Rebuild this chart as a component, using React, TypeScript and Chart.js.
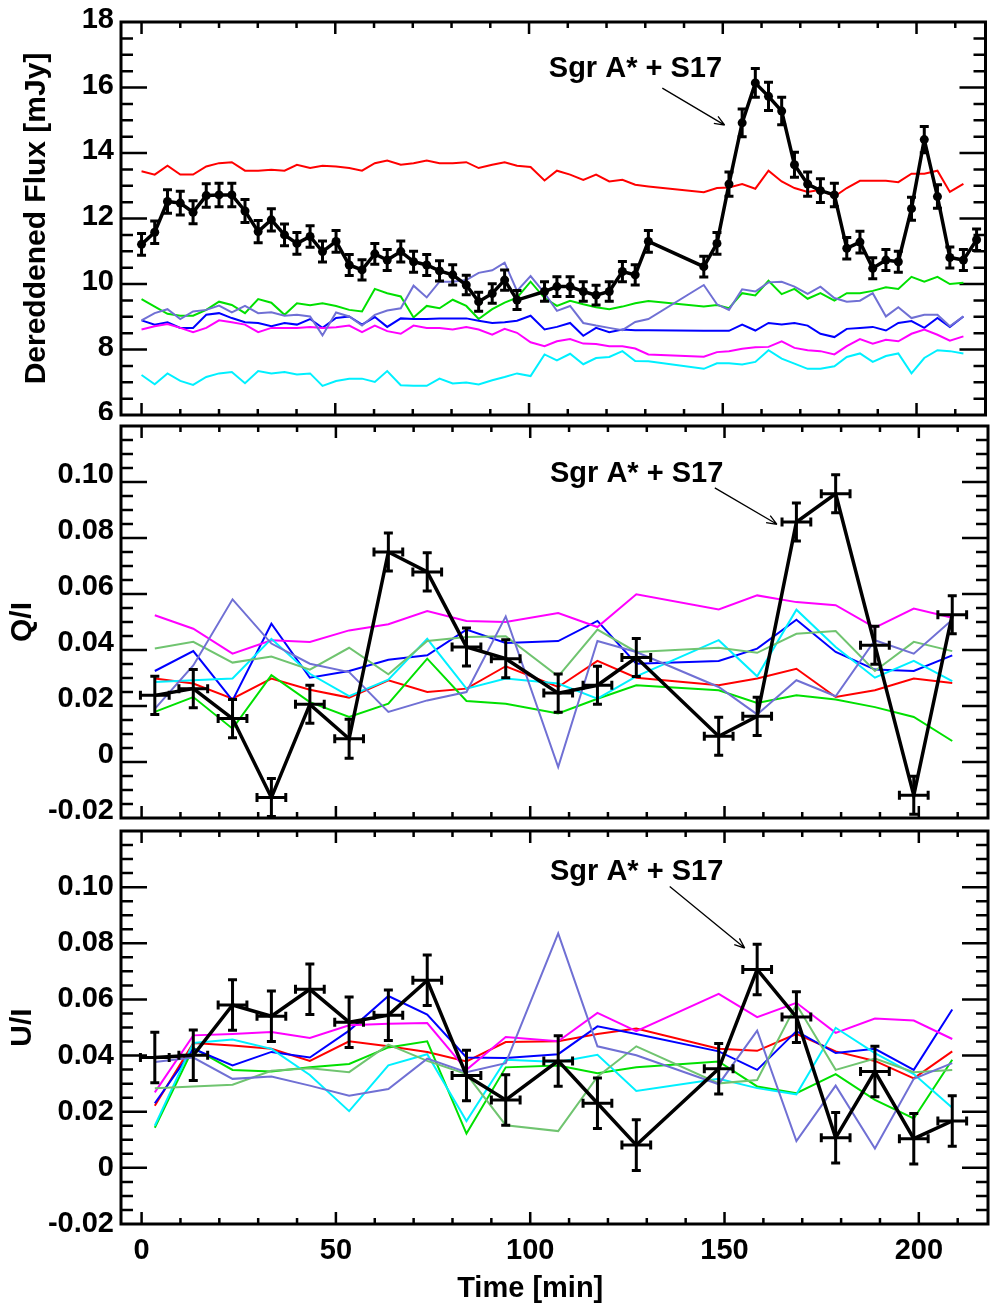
import React, { useEffect, useRef } from "react";
import { Chart, registerables } from "chart.js";
Chart.register(...registerables);

const FONT = "'Liberation Sans', Arial, Helvetica, sans-serif";

// ---------- axis ranges / tick labels ----------
const X_MIN = -5.3;
const X_MAX = 217.8;
const timeTicks = [0, 50, 100, 150, 200];
const fluxTicks = [6, 8, 10, 12, 14, 16, 18];
const polTicks = [-0.02, 0, 0.02, 0.04, 0.06, 0.08, 0.1];

// ---------- top panel: dereddened flux ----------
const timesRef = [0, 3.4, 6.7, 10.0, 13.3, 16.7, 20.0, 23.3, 26.7, 30.1, 33.5, 36.9, 40.1, 43.5, 46.7, 50.2, 53.6, 56.9, 60.2, 63.4, 66.9, 70.2, 73.6, 76.9, 80.3, 83.8, 87.0, 90.5, 93.7, 96.9, 100.4, 104.0, 107.2, 110.6, 114.0, 117.3, 120.7, 124.1, 127.4, 130.8, 145.1, 148.5, 151.6, 155.0, 158.4, 161.8, 165.2, 168.5, 171.9, 175.2, 178.8, 182.0, 185.4, 188.7, 192.1, 195.3, 198.7, 202.0, 205.4, 208.6, 212.1];
const timesSgr = [0, 3.4, 6.7, 10.0, 13.3, 16.7, 20.0, 23.3, 26.7, 30.1, 33.5, 36.9, 40.1, 43.5, 46.7, 50.2, 53.6, 56.9, 60.2, 63.4, 66.9, 70.2, 73.6, 76.9, 80.3, 83.8, 87.0, 90.5, 93.7, 96.9, 104.0, 107.2, 110.6, 114.0, 117.3, 120.7, 124.1, 127.4, 130.8, 145.1, 148.5, 151.6, 155.0, 158.4, 161.8, 165.2, 168.5, 171.9, 175.2, 178.8, 182.0, 185.4, 188.7, 192.1, 195.3, 198.7, 202.0, 205.4, 208.6, 212.1, 215.5];
const fluxSgr = [11.21, 11.58, 12.52, 12.47, 12.19, 12.70, 12.72, 12.72, 12.23, 11.60, 11.96, 11.50, 11.24, 11.45, 10.99, 11.30, 10.58, 10.43, 10.92, 10.73, 10.99, 10.68, 10.58, 10.40, 10.28, 9.97, 9.46, 9.71, 10.12, 9.51, 9.77, 9.92, 9.92, 9.77, 9.66, 9.77, 10.38, 10.28, 11.30, 10.53, 11.24, 13.05, 14.92, 16.14, 15.73, 15.28, 13.64, 13.05, 12.85, 12.72, 11.09, 11.28, 10.48, 10.73, 10.68, 12.30, 14.41, 12.67, 10.81, 10.73, 11.35];
const fluxSgrErr = [0.33, 0.34, 0.36, 0.36, 0.35, 0.36, 0.36, 0.36, 0.35, 0.34, 0.34, 0.33, 0.33, 0.33, 0.32, 0.33, 0.32, 0.31, 0.32, 0.32, 0.32, 0.32, 0.32, 0.31, 0.31, 0.30, 0.29, 0.30, 0.31, 0.29, 0.30, 0.30, 0.30, 0.30, 0.30, 0.30, 0.31, 0.31, 0.33, 0.32, 0.33, 0.37, 0.42, 0.44, 0.43, 0.42, 0.38, 0.37, 0.36, 0.36, 0.33, 0.33, 0.32, 0.32, 0.32, 0.35, 0.40, 0.36, 0.32, 0.32, 0.33];
const fluxRed = [13.44, 13.34, 13.61, 13.34, 13.34, 13.59, 13.69, 13.72, 13.46, 13.46, 13.49, 13.46, 13.64, 13.54, 13.61, 13.59, 13.54, 13.46, 13.69, 13.77, 13.64, 13.69, 13.77, 13.69, 13.69, 13.72, 13.54, 13.64, 13.72, 13.61, 13.57, 13.16, 13.46, 13.34, 13.18, 13.34, 13.13, 13.18, 13.03, 12.98, 12.80, 12.93, 12.95, 13.05, 12.91, 13.46, 13.13, 12.93, 12.81, 12.88, 12.67, 12.93, 13.15, 13.15, 13.15, 13.11, 13.37, 13.37, 13.46, 12.81, 13.06];
const fluxGreen = [9.54, 9.31, 9.09, 9.03, 9.03, 9.21, 9.46, 9.36, 9.11, 9.54, 9.43, 9.06, 9.41, 9.35, 9.41, 9.33, 9.21, 9.16, 9.85, 9.72, 9.62, 8.98, 9.33, 9.26, 9.52, 9.33, 8.93, 9.23, 9.43, 9.58, 10.07, 9.57, 9.33, 9.49, 9.38, 9.29, 9.23, 9.31, 9.41, 9.48, 9.31, 9.36, 9.26, 9.72, 9.65, 10.10, 9.69, 9.85, 9.55, 9.72, 9.49, 9.72, 9.72, 9.79, 9.90, 9.85, 10.22, 10.07, 10.22, 10.0, 10.04];
const fluxBlue = [8.89, 8.76, 8.83, 8.66, 8.66, 9.06, 9.11, 8.96, 8.83, 8.81, 8.71, 8.81, 8.76, 8.93, 8.66, 8.96, 9.01, 8.76, 8.99, 8.69, 8.95, 8.93, 8.93, 8.95, 8.95, 8.95, 8.88, 8.81, 8.83, 8.88, 9.03, 8.61, 8.69, 8.81, 8.42, 8.66, 8.53, 8.61, 8.59, 8.59, 8.57, 8.57, 8.57, 8.76, 8.58, 8.81, 8.76, 8.81, 8.73, 8.48, 8.38, 8.63, 8.66, 8.69, 8.58, 8.81, 8.87, 8.66, 8.96, 8.69, 9.01];
const fluxMagenta = [8.61, 8.71, 8.78, 8.66, 8.53, 8.66, 8.89, 8.83, 8.76, 8.53, 8.66, 8.66, 8.66, 8.69, 8.66, 8.68, 8.73, 8.53, 8.73, 8.56, 8.48, 8.73, 8.66, 8.66, 8.61, 8.69, 8.61, 8.45, 8.63, 8.51, 8.22, 8.10, 8.25, 8.32, 8.18, 8.17, 8.10, 8.10, 8.03, 7.85, 7.78, 7.92, 7.95, 8.02, 8.07, 8.08, 8.25, 8.05, 7.98, 7.95, 7.85, 8.10, 8.32, 8.18, 8.30, 8.25, 8.48, 8.61, 8.45, 8.27, 8.40];
const fluxCyan = [7.22, 6.94, 7.27, 7.04, 6.92, 7.16, 7.27, 7.31, 6.97, 7.34, 7.27, 7.31, 7.24, 7.27, 6.89, 7.04, 7.11, 7.11, 7.01, 7.34, 6.91, 6.89, 6.89, 7.11, 6.96, 6.99, 6.93, 7.06, 7.16, 7.27, 7.19, 7.85, 7.67, 7.87, 7.55, 7.74, 7.77, 7.95, 7.65, 7.64, 7.41, 7.58, 7.58, 7.54, 7.62, 7.98, 7.72, 7.57, 7.41, 7.41, 7.49, 7.77, 7.88, 7.62, 7.80, 7.88, 7.27, 7.74, 7.98, 7.95, 7.88];
const fluxPurple = [8.89, 9.11, 9.23, 8.93, 9.16, 9.21, 9.34, 9.13, 9.33, 9.11, 9.14, 9.03, 9.06, 9.01, 8.43, 9.13, 9.01, 8.73, 9.06, 9.19, 9.26, 9.95, 9.59, 10.07, 10.07, 10.12, 10.34, 10.42, 10.65, 9.79, 10.24, 9.72, 9.18, 9.33, 8.81, 8.73, 8.66, 8.59, 8.84, 8.93, 9.97, 9.38, 9.21, 9.84, 9.77, 10.05, 10.07, 9.92, 9.70, 9.92, 9.57, 9.46, 9.49, 9.72, 9.01, 9.29, 8.96, 9.06, 9.06, 8.71, 9.01];

// ---------- polarisation panels ----------
const timesPol = [3.4, 13.3, 23.4, 33.4, 43.3, 53.4, 63.5, 73.5, 83.6, 93.7, 107.2, 117.3, 127.3, 148.5, 158.4, 168.5, 178.6, 188.7, 198.7, 208.6];
const timePolErr = [3.7, 3.7, 3.7, 3.7, 3.7, 3.7, 3.7, 3.7, 3.7, 3.7, 3.7, 3.7, 3.7, 3.7, 3.7, 3.7, 3.7, 3.7, 3.7, 3.7];

const qSgr = [0.0238, 0.0262, 0.0155, -0.0127, 0.0206, 0.0083, 0.0750, 0.0679, 0.0411, 0.0369, 0.0246, 0.0274, 0.0373, 0.0092, 0.0163, 0.0857, 0.0958, 0.0417, -0.0119, 0.0526];
const qSgrErr = [0.0068, 0.0068, 0.0068, 0.0068, 0.0068, 0.0070, 0.0068, 0.0068, 0.0068, 0.0068, 0.0068, 0.0068, 0.0068, 0.0068, 0.0068, 0.0068, 0.0068, 0.0068, 0.0068, 0.0068];
const qRed = [0.0298, 0.0280, 0.0226, 0.0298, 0.0258, 0.0230, 0.0292, 0.0250, 0.0262, 0.0342, 0.0268, 0.0361, 0.0301, 0.0274, 0.0298, 0.0333, 0.0232, 0.0256, 0.0298, 0.0282];
const qGreen = [0.0179, 0.0232, 0.0119, 0.0310, 0.0214, 0.0161, 0.0208, 0.0369, 0.0218, 0.0208, 0.0173, 0.0226, 0.0274, 0.0256, 0.0211, 0.0238, 0.0223, 0.0196, 0.0161, 0.0075];
const qBlue = [0.0325, 0.0396, 0.0220, 0.0494, 0.0301, 0.0325, 0.0365, 0.0381, 0.0473, 0.0425, 0.0432, 0.0504, 0.0351, 0.0361, 0.0405, 0.0508, 0.0393, 0.0330, 0.0325, 0.0381];
const qMagenta = [0.0524, 0.0476, 0.0387, 0.0435, 0.0429, 0.0470, 0.0492, 0.0539, 0.0504, 0.0500, 0.0532, 0.0482, 0.0599, 0.0545, 0.0595, 0.0571, 0.0560, 0.0480, 0.0548, 0.0515];
const qCyan = [0.0286, 0.0292, 0.0298, 0.0440, 0.0315, 0.0235, 0.0294, 0.0440, 0.0262, 0.0298, 0.0280, 0.0226, 0.0306, 0.0435, 0.0306, 0.0544, 0.0411, 0.0301, 0.0361, 0.0289];
const qPurple = [0.0190, 0.0345, 0.0581, 0.0423, 0.0351, 0.0321, 0.0179, 0.0220, 0.0250, 0.0520, -0.0018, 0.0432, 0.0393, 0.0268, 0.0170, 0.0292, 0.0235, 0.0435, 0.0387, 0.0508];
const qLightGreen = [0.0405, 0.0429, 0.0355, 0.0377, 0.0330, 0.0408, 0.0313, 0.0432, 0.0446, 0.0449, 0.0306, 0.0473, 0.0393, 0.0408, 0.0390, 0.0458, 0.0468, 0.0325, 0.0429, 0.0396];

const uSgr = [0.0393, 0.0401, 0.0580, 0.0540, 0.0636, 0.0519, 0.0544, 0.0668, 0.0329, 0.0242, 0.0381, 0.0230, 0.0081, 0.0353, 0.0707, 0.0537, 0.0107, 0.0343, 0.0104, 0.0167];
const uSgrErr = [0.009, 0.009, 0.009, 0.009, 0.009, 0.009, 0.009, 0.009, 0.009, 0.009, 0.009, 0.009, 0.009, 0.009, 0.009, 0.009, 0.009, 0.009, 0.009, 0.009];
const uRed = [0.0221, 0.0445, 0.0436, 0.0424, 0.0381, 0.0451, 0.0433, 0.0413, 0.0379, 0.0448, 0.0451, 0.0477, 0.0496, 0.0424, 0.0417, 0.0477, 0.0415, 0.0381, 0.0319, 0.0415];
const uGreen = [0.0143, 0.0427, 0.0349, 0.0343, 0.0358, 0.0370, 0.0429, 0.0451, 0.0122, 0.0358, 0.0365, 0.0337, 0.0358, 0.0379, 0.0290, 0.0266, 0.0334, 0.0242, 0.0176, 0.0385];
const uBlue = [0.0230, 0.0424, 0.0365, 0.0413, 0.0393, 0.0489, 0.0612, 0.0546, 0.0393, 0.0391, 0.0405, 0.0504, 0.0477, 0.0415, 0.0349, 0.0487, 0.0409, 0.0424, 0.0349, 0.0564];
const uMagenta = [0.0269, 0.0472, 0.0477, 0.0484, 0.0463, 0.0508, 0.0513, 0.0516, 0.0349, 0.0466, 0.0451, 0.0552, 0.0487, 0.0620, 0.0537, 0.0588, 0.0481, 0.0532, 0.0525, 0.0459];
const uCyan = [0.0150, 0.0445, 0.0457, 0.0424, 0.0331, 0.0202, 0.0365, 0.0405, 0.0167, 0.0385, 0.0377, 0.0403, 0.0274, 0.0317, 0.0284, 0.0262, 0.0499, 0.0409, 0.0334, 0.0214];
const uPurple = [0.0377, 0.0393, 0.0317, 0.0325, 0.0293, 0.0257, 0.0281, 0.0389, 0.0341, 0.0373, 0.0835, 0.0433, 0.0401, 0.0298, 0.0489, 0.0095, 0.0293, 0.0069, 0.0317, 0.0373];
const uLightGreen = [0.0284, 0.0290, 0.0296, 0.0346, 0.0355, 0.0341, 0.0439, 0.0381, 0.0334, 0.0152, 0.0131, 0.0325, 0.0433, 0.0301, 0.0313, 0.0582, 0.0349, 0.0389, 0.0341, 0.0349];

// annotation anchors (data coordinates): [textX, textY, arrowX0, arrowY0, arrowX1, arrowY1]
const annotationLabel = "Sgr A* + S17";
const annFlux = [105.1, 16.32, 134.4, 15.98, 150.5, 14.85];
const annQ = [105.1, 0.1, 147.5, 0.0979, 163.5, 0.0849];
const annU = [105.1, 0.1024, 135.9, 0.1002, 155.2, 0.0783];

const COLORS = {
  red: "#ff0000",
  green: "#00e000",
  blue: "#0000ff",
  magenta: "#ff00ff",
  cyan: "#00f0ff",
  purple: "#7070d4",
  lightGreen: "#70c470",
};

const pts = (t: number[], v: number[]) => t.map((x, i) => ({ x, y: v[i] }));

function colorLine(t: number[], v: number[], color: string) {
  return {
    data: pts(t, v),
    borderColor: color,
    backgroundColor: color,
    borderWidth: 2,
    pointRadius: 0,
    tension: 0,
    fill: false,
  };
}

function blackLine(t: number[], v: number[], radius: number) {
  return {
    data: pts(t, v),
    borderColor: "#000",
    backgroundColor: "#000",
    borderWidth: 3.5,
    pointRadius: radius,
    pointBackgroundColor: "#000",
    pointBorderWidth: 0,
    tension: 0,
    fill: false,
  };
}

type PanelSpec = {
  height: number;
  top: number;
  padTop: number;
  padBottom: number;
  showX: boolean;
  yMin: number;
  yMax: number;
  yMajor: number;
  yMinor: number;
  yTicks: number[];
  yFmt: (v: number) => string;
  yTitle: string;
  yTitlePad: number;
  yLabelOffset: number;
  datasets: any[];
  err: { t: number[]; v: number[]; yErr: number[]; xErr?: number[] };
  ann: number[];
};

function framePlugin(p: PanelSpec) {
  return {
    id: "idlFrame",
    beforeDatasetsDraw(chart: any) {
      const { ctx, chartArea } = chart;
      const { left, right, top, bottom } = chartArea;
      const xs = chart.scales.x;
      const ys = chart.scales.y;
      ctx.save();
      ctx.strokeStyle = "#000";
      ctx.lineCap = "butt";
      ctx.lineWidth = 2.5;
      // y ticks, left and right, pointing inward
      const nY = Math.round((p.yMax - p.yMin) / p.yMinor);
      for (let i = 1; i < nY; i++) {
        const v = p.yMin + i * p.yMinor;
        const r = v / p.yMajor;
        const major = Math.abs(r - Math.round(r)) < 1e-6;
        const len = major ? 26 : 12;
        const py = ys.getPixelForValue(v);
        ctx.beginPath();
        ctx.moveTo(left, py);
        ctx.lineTo(left + len, py);
        ctx.moveTo(right, py);
        ctx.lineTo(right - len, py);
        ctx.stroke();
      }
      // x ticks, top and bottom, pointing inward
      for (let v = 0; v <= X_MAX; v += 10) {
        const major = v % 50 === 0;
        const len = major ? 12 : 6;
        const px = xs.getPixelForValue(v);
        ctx.beginPath();
        ctx.moveTo(px, top);
        ctx.lineTo(px, top + len);
        ctx.moveTo(px, bottom);
        ctx.lineTo(px, bottom - len);
        ctx.stroke();
      }
      ctx.lineWidth = 3;
      ctx.strokeRect(left, top, right - left, bottom - top);
      ctx.restore();
    },
  };
}

function errorPlugin(p: PanelSpec) {
  return {
    id: "errBars",
    afterDatasetsDraw(chart: any) {
      const { ctx } = chart;
      const xs = chart.scales.x;
      const ys = chart.scales.y;
      const cap = 4.5;
      const e = p.err;
      ctx.save();
      ctx.strokeStyle = "#000";
      ctx.lineWidth = 3;
      ctx.lineCap = "butt";
      e.t.forEach((t, i) => {
        const v = e.v[i];
        const px = xs.getPixelForValue(t);
        const y1 = ys.getPixelForValue(v - e.yErr[i]);
        const y2 = ys.getPixelForValue(v + e.yErr[i]);
        ctx.beginPath();
        ctx.moveTo(px, y1);
        ctx.lineTo(px, y2);
        ctx.moveTo(px - cap, y1);
        ctx.lineTo(px + cap, y1);
        ctx.moveTo(px - cap, y2);
        ctx.lineTo(px + cap, y2);
        if (e.xErr) {
          const py = ys.getPixelForValue(v);
          const xa = xs.getPixelForValue(t - e.xErr[i]);
          const xb = xs.getPixelForValue(t + e.xErr[i]);
          ctx.moveTo(xa, py);
          ctx.lineTo(xb, py);
          ctx.moveTo(xa, py - cap);
          ctx.lineTo(xa, py + cap);
          ctx.moveTo(xb, py - cap);
          ctx.lineTo(xb, py + cap);
        }
        ctx.stroke();
      });
      ctx.restore();
    },
  };
}

function annotationPlugin(p: PanelSpec) {
  return {
    id: "sgrAnnotation",
    afterDraw(chart: any) {
      const { ctx } = chart;
      const xs = chart.scales.x;
      const ys = chart.scales.y;
      const a = p.ann;
      ctx.save();
      ctx.fillStyle = "#000";
      ctx.font = `bold 29px ${FONT}`;
      ctx.textAlign = "left";
      ctx.textBaseline = "alphabetic";
      ctx.fillText(annotationLabel, xs.getPixelForValue(a[0]), ys.getPixelForValue(a[1]));
      const x0 = xs.getPixelForValue(a[2]);
      const y0 = ys.getPixelForValue(a[3]);
      const x1 = xs.getPixelForValue(a[4]);
      const y1 = ys.getPixelForValue(a[5]);
      ctx.strokeStyle = "#000";
      ctx.lineWidth = 1.3;
      ctx.beginPath();
      ctx.moveTo(x0, y0);
      ctx.lineTo(x1, y1);
      const ang = Math.atan2(y1 - y0, x1 - x0);
      const hl = 11;
      const ha = 0.38;
      ctx.moveTo(x1, y1);
      ctx.lineTo(x1 - hl * Math.cos(ang - ha), y1 - hl * Math.sin(ang - ha));
      ctx.moveTo(x1, y1);
      ctx.lineTo(x1 - hl * Math.cos(ang + ha), y1 - hl * Math.sin(ang + ha));
      ctx.stroke();
      if (p.showX) {
        ctx.font = `bold 29px ${FONT}`;
        ctx.textAlign = "center";
        ctx.textBaseline = "middle";
        ctx.fillText("Time [min]", xs.getPixelForValue(timeTicks[2]), chart.height - 19);
      }
      ctx.restore();
    },
  };
}

function buildConfig(p: PanelSpec): any {
  return {
    type: "line",
    data: { datasets: p.datasets },
    options: {
      animation: false,
      responsive: false,
      maintainAspectRatio: false,
      events: [],
      layout: { padding: { left: 0, right: 2, top: p.padTop, bottom: p.padBottom } },
      plugins: { legend: { display: false }, tooltip: { enabled: false }, title: { display: false } },
      scales: {
        x: {
          type: "linear",
          min: X_MIN,
          max: X_MAX,
          display: p.showX,
          grid: { display: false, drawTicks: false },
          border: { display: false },
          afterBuildTicks: (s: any) => {
            s.ticks = timeTicks.map((v) => ({ value: v }));
          },
          afterFit: (s: any) => {
            s.height = p.showX ? 84 : 0;
            s.paddingLeft = 0;
            s.paddingRight = 0;
          },
          ticks: {
            autoSkip: false,
            maxRotation: 0,
            padding: 10,
            color: "#000",
            font: { family: FONT, size: 29, weight: "bold" },
            callback: (v: any) => String(v),
          },
        },
        y: {
          type: "linear",
          min: p.yMin,
          max: p.yMax,
          grid: { display: false, drawTicks: false },
          border: { display: false },
          afterBuildTicks: (s: any) => {
            s.ticks = p.yTicks.map((v) => ({ value: v }));
          },
          afterFit: (s: any) => {
            s.width = 121;
            s.paddingTop = 0;
            s.paddingBottom = 0;
          },
          ticks: {
            autoSkip: false,
            padding: 7,
            labelOffset: p.yLabelOffset,
            color: "#000",
            font: { family: FONT, size: 29, weight: "bold" },
            callback: (v: any) => p.yFmt(Number(v)),
          },
          title: {
            display: true,
            text: p.yTitle,
            color: "#000",
            font: { family: FONT, size: 30, weight: "bold" },
            padding: { top: p.yTitlePad, bottom: 0 },
          },
        },
      },
    },
    plugins: [framePlugin(p), errorPlugin(p), annotationPlugin(p)],
  };
}

const polFmt = (v: number) => (Math.abs(v) < 1e-9 ? "0" : v.toFixed(2));

const panels: PanelSpec[] = [
  {
    height: 420,
    top: 0,
    padTop: 22,
    padBottom: 5,
    showX: false,
    yMin: 6,
    yMax: 18,
    yMajor: 2,
    yMinor: 0.5,
    yTicks: fluxTicks,
    yFmt: (v) => String(Math.round(v)),
    yTitle: "Dereddened Flux [mJy]",
    yTitlePad: 19,
    yLabelOffset: -2,
    datasets: [
      blackLine(timesSgr, fluxSgr, 4.5),
      colorLine(timesRef, fluxPurple, COLORS.purple),
      colorLine(timesRef, fluxCyan, COLORS.cyan),
      colorLine(timesRef, fluxMagenta, COLORS.magenta),
      colorLine(timesRef, fluxBlue, COLORS.blue),
      colorLine(timesRef, fluxGreen, COLORS.green),
      colorLine(timesRef, fluxRed, COLORS.red),
    ],
    err: { t: timesSgr, v: fluxSgr, yErr: fluxSgrErr },
    ann: annFlux,
  },
  {
    height: 405,
    top: 420,
    padTop: 6,
    padBottom: 7,
    showX: false,
    yMin: -0.02,
    yMax: 0.12,
    yMajor: 0.02,
    yMinor: 0.005,
    yTicks: polTicks,
    yFmt: polFmt,
    yTitle: "Q/I",
    yTitlePad: 5,
    yLabelOffset: -7,
    datasets: [
      blackLine(timesPol, qSgr, 0),
      colorLine(timesPol, qPurple, COLORS.purple),
      colorLine(timesPol, qLightGreen, COLORS.lightGreen),
      colorLine(timesPol, qCyan, COLORS.cyan),
      colorLine(timesPol, qMagenta, COLORS.magenta),
      colorLine(timesPol, qBlue, COLORS.blue),
      colorLine(timesPol, qGreen, COLORS.green),
      colorLine(timesPol, qRed, COLORS.red),
    ],
    err: { t: timesPol, v: qSgr, yErr: qSgrErr, xErr: timePolErr },
    ann: annQ,
  },
  {
    height: 483,
    top: 825,
    padTop: 6,
    padBottom: 0,
    showX: true,
    yMin: -0.02,
    yMax: 0.12,
    yMajor: 0.02,
    yMinor: 0.005,
    yTicks: polTicks,
    yFmt: polFmt,
    yTitle: "U/I",
    yTitlePad: 5,
    yLabelOffset: 0,
    datasets: [
      blackLine(timesPol, uSgr, 0),
      colorLine(timesPol, uPurple, COLORS.purple),
      colorLine(timesPol, uLightGreen, COLORS.lightGreen),
      colorLine(timesPol, uCyan, COLORS.cyan),
      colorLine(timesPol, uMagenta, COLORS.magenta),
      colorLine(timesPol, uBlue, COLORS.blue),
      colorLine(timesPol, uGreen, COLORS.green),
      colorLine(timesPol, uRed, COLORS.red),
    ],
    err: { t: timesPol, v: uSgr, yErr: uSgrErr, xErr: timePolErr },
    ann: annU,
  },
];

function Panel({ spec }: { spec: PanelSpec }) {
  const ref = useRef<HTMLCanvasElement | null>(null);
  useEffect(() => {
    if (!ref.current) return;
    const chart = new Chart(ref.current, buildConfig(spec));
    return () => chart.destroy();
  }, [spec]);
  return (
    <canvas
      ref={ref}
      width={990}
      height={spec.height}
      style={{ position: "absolute", left: 0, top: spec.top, width: 990, height: spec.height, display: "block" }}
    />
  );
}

export default function App() {
  return (
    <div style={{ position: "absolute", left: 0, top: 0, width: 990, height: 1308, background: "#fff", overflow: "hidden" }}>
      {panels.map((p, i) => (
        <Panel key={i} spec={p} />
      ))}
    </div>
  );
}
